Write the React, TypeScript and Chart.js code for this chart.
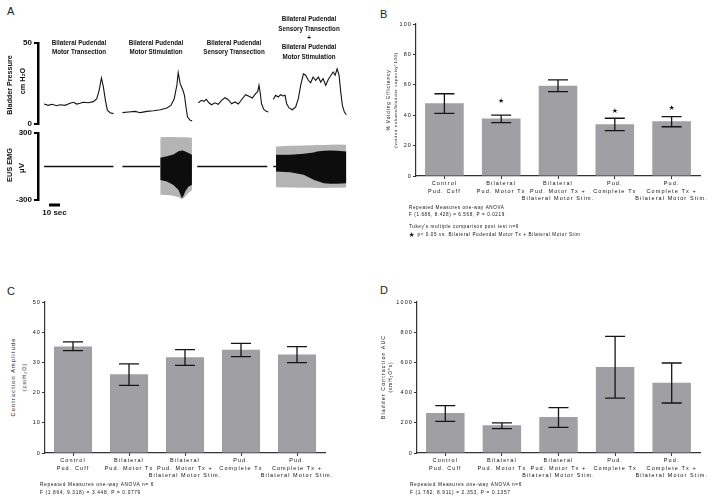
import React, { useEffect, useRef } from "react";
import { Chart, registerables } from "chart.js";

Chart.register(...registerables);

const FONT = '"Liberation Sans", Arial, Helvetica, sans-serif';

// ---------------- Panel A: raw traces ----------------
// Bladder pressure (cmH2O) against time (s), one recording per condition
const motorTxTime = [0, 3.9, 7.0, 11.5, 14.5, 19.1, 23.6, 26.6, 29.7, 32.7, 35.7, 40.3, 44.8, 47.9, 50.0, 52.1, 53.9, 55.7, 57.5, 60.0, 63.0];
const motorTxPressure = [12.3, 11.5, 12.2, 11.3, 11.9, 11.5, 12.8, 13.4, 12.3, 12.8, 13.4, 13.1, 13.8, 15.6, 20.8, 28.4, 22.8, 14.6, 8.5, 7.0, 6.4];

const motorStimTime = [71.2, 76.6, 82.7, 87.3, 93.4, 99.4, 105.5, 111.5, 115.2, 118.2, 120.6, 121.8, 123.6, 126.1, 127.5, 129.1, 130.3, 132.7, 134.5];
const motorStimPressure = [7.0, 7.4, 7.8, 7.0, 7.8, 8.2, 8.8, 9.9, 11.5, 15.6, 23.9, 31.7, 24.9, 20.8, 17.7, 9.4, 4.3, 2.3, 1.9];

const sensoryTxTime = [140.0, 143.0, 145.2, 147.3, 149.7, 152.1, 155.2, 158.2, 161.2, 164.3, 167.3, 170.3, 173.4, 176.4, 180.0, 183.0, 186.1, 189.1, 192.1, 193.9, 195.2, 196.4, 197.5, 199.4, 201.8, 203.6];
const sensoryTxPressure = [13.1, 14.6, 14.0, 15.2, 13.1, 11.9, 13.1, 12.2, 14.6, 16.2, 15.0, 12.5, 13.6, 12.3, 15.6, 18.1, 17.1, 16.0, 18.7, 19.8, 23.9, 18.7, 12.5, 9.1, 7.8, 7.4];

const comboTime = [208.2, 210.3, 212.7, 214.8, 217.0, 218.8, 220.3, 222.5, 225.5, 228.5, 230.9, 233.0, 235.5, 237.5, 240.0, 242.1, 244.3, 246.6, 249.1, 251.2, 253.4, 255.7, 258.2, 260.6, 262.5, 264.3, 266.1, 267.9, 269.4, 270.9, 272.7, 274.5];
const comboPressure = [15.2, 17.7, 16.7, 18.1, 17.3, 17.7, 12.5, 9.9, 8.8, 10.5, 15.6, 23.9, 31.0, 30.1, 27.0, 25.5, 29.0, 27.0, 29.0, 25.9, 28.0, 23.9, 27.6, 30.1, 32.1, 30.1, 34.1, 30.1, 19.8, 11.5, 7.4, 5.7];

const pressureTicks = [0, 50];

// EUS EMG (µV): quiet baseline segments and stimulation bursts (envelopes)
const emgFlatStart = [0, 71.2, 139.1, 208.2];
const emgFlatEnd = [63.0, 105.5, 202.7, 210.6];

const stimBurstTime = [105.5, 111.5, 117.5, 122.1, 125.2, 126.6, 128.2, 131.2, 134.3];
const stimBurstOuterHigh = [262, 264, 265, 263, 262, 262, 261, 259, 257];
const stimBurstOuterLow = [-252, -256, -262, -275, -292, -285, -268, -238, -212];
const stimBurstCoreHigh = [78, 92, 108, 136, 143, 142, 134, 120, 106];
const stimBurstCoreLow = [-120, -135, -165, -210, -285, -262, -224, -180, -165];

const comboBurstTime = [210.6, 223.6, 235.7, 244.8, 247.9, 254.0, 260.0, 266.1, 274.5];
const comboBurstOuterHigh = [180, 185, 188, 190, 192, 193, 194, 196, 194];
const comboBurstOuterLow = [-185, -188, -190, -190, -192, -192, -190, -190, -188];
const comboBurstCoreHigh = [105, 106, 114, 125, 134, 140, 143, 140, 134];
const comboBurstCoreLow = [-45, -52, -74, -119, -130, -149, -155, -155, -149];

const emgTicks = [-300, 300];
const scaleBarStart = 4.5;
const scaleBarSeconds = 10;

const traceTitles = [
  ["Bilateral Pudendal", "Motor Transection"],
  ["Bilateral Pudendal", "Motor Stimulation"],
  ["Bilateral Pudendal", "Sensory Transection"],
  ["Bilateral Pudendal", "Sensory Transection", "+", "Bilateral Pudendal", "Motor Stimulation"],
];

// ---------------- Panels B–D: group means ----------------
const groupLabels = [
  ["Control", "Pud. Cuff"],
  ["Bilateral", "Pud. Motor Tx"],
  ["Bilateral", "Pud. Motor Tx +", "Bilateral Motor Stim."],
  ["Pud.", "Complete Tx"],
  ["Pud.", "Complete Tx +", "Bilateral Motor Stim."],
];

const voidingMean = [47.8, 37.9, 59.4, 34.0, 36.0];
const voidingLow = [41.2, 35.1, 55.5, 29.8, 32.4];
const voidingHigh = [54.1, 40.1, 63.2, 38.0, 39.0];
const voidingStar: (number | null)[] = [null, 48.9, null, 42.9, 44.5];
const voidingTicks = [0, 20, 40, 60, 80, 100];

const amplitudeMean = [35.3, 26.1, 31.7, 34.2, 32.6];
const amplitudeLow = [33.9, 22.4, 29.0, 31.9, 29.9];
const amplitudeHigh = [36.8, 29.5, 34.2, 36.3, 35.2];
const amplitudeTicks = [0, 10, 20, 30, 40, 50];

const aucMean = [265, 183, 238, 570, 466];
const aucLow = [210, 161, 170, 364, 331];
const aucHigh = [314, 199, 300, 773, 596];
const aucTicks = [0, 200, 400, 600, 800, 1000];

// ---------------- helpers ----------------
type LabelProps = {
  x: number;
  y: number;
  text: string;
  size: number;
  bold?: boolean;
  spacing?: number;
  align?: "left" | "center";
  rotate?: boolean;
  sx?: number;
  color?: string;
  family?: string;
};

function Label({ x, y, text, size, bold = false, spacing = 0, align = "left", rotate = false, sx = 1, color = "#111", family = FONT }: LabelProps) {
  const t: string[] = [];
  if (align === "center" || rotate) t.push("translate(-50%,-50%)");
  else t.push("translateY(-50%)");
  if (rotate) t.push("rotate(-90deg)");
  if (sx !== 1) t.push(`scaleX(${sx})`);
  return (
    <div
      style={{
        position: "absolute",
        left: x,
        top: y,
        fontFamily: family,
        fontSize: size,
        fontWeight: bold ? 700 : 400,
        letterSpacing: spacing,
        lineHeight: `${size}px`,
        whiteSpace: "nowrap",
        color,
        transform: t.join(" "),
        transformOrigin: align === "left" && !rotate ? "left center" : "center center",
      }}
    >
      {text}
    </div>
  );
}

const spacingPlugin = (px: string) => ({
  id: "letterSpacing",
  beforeLayout(chart: any) {
    chart.ctx.letterSpacing = px;
  },
  beforeDraw(chart: any) {
    chart.ctx.letterSpacing = px;
  },
});

type Box = { x: number; y: number; w: number; h: number };

function canvasStyle(b: Box): React.CSSProperties {
  return { position: "absolute", left: b.x, top: b.y, width: b.w, height: b.h };
}

// ---------------- Panel A charts ----------------
function PressureChart({ box }: { box: Box }) {
  const ref = useRef<HTMLCanvasElement>(null);
  useEffect(() => {
    const traces = [
      [motorTxTime, motorTxPressure],
      [motorStimTime, motorStimPressure],
      [sensoryTxTime, sensoryTxPressure],
      [comboTime, comboPressure],
    ];
    const chart = new Chart(ref.current!, {
      type: "line",
      data: {
        datasets: traces.map(([t, v]) => ({
          data: t.map((x, i) => ({ x, y: v[i] })),
          borderColor: "#141414",
          borderWidth: 1.1,
          pointRadius: 0,
          tension: 0,
          fill: false,
        })),
      },
      options: {
        animation: false,
        responsive: false,
        devicePixelRatio: 1,
        layout: { padding: { left: 0, right: 12, top: 13, bottom: 10 } },
        plugins: { legend: { display: false }, tooltip: { enabled: false } },
        scales: {
          x: { type: "linear", display: false, min: -5.5, max: 276 },
          y: {
            min: 0,
            max: 50,
            afterBuildTicks: (s: any) => {
              s.ticks = pressureTicks.map((v) => ({ value: v }));
            },
            afterFit: (s: any) => {
              s.width = 38;
            },
            ticks: { font: { family: FONT, size: 8, weight: "bold" }, color: "#111", padding: 2 },
            grid: { drawOnChartArea: false, drawTicks: true, tickLength: 4, color: "#000", lineWidth: 2 },
            border: { display: true, color: "#000", width: 2.5 },
          },
        },
      },
    } as any);
    return () => chart.destroy();
  }, []);
  return <canvas ref={ref} width={box.w} height={box.h} style={canvasStyle(box)} />;
}

function EmgChart({ box }: { box: Box }) {
  const ref = useRef<HTMLCanvasElement>(null);
  useEffect(() => {
    const line = (t: number[], v: number[]) => t.map((x, i) => ({ x, y: v[i] }));
    const flat = emgFlatStart.map((s, i) => ({
      data: [
        { x: s, y: 0 },
        { x: emgFlatEnd[i], y: 0 },
      ],
      borderColor: "#111",
      borderWidth: 1.5,
      pointRadius: 0,
      fill: false,
    }));
    const band = (t: number[], hi: number[], lo: number[], color: string) => [
      { data: line(t, hi), borderWidth: 0, borderColor: color, backgroundColor: color, pointRadius: 0, tension: 0, fill: "+1" },
      { data: line(t, lo), borderWidth: 0, borderColor: color, pointRadius: 0, tension: 0, fill: false },
    ];
    const datasets = [
      ...flat,
      ...band(stimBurstTime, stimBurstCoreHigh, stimBurstCoreLow, "#0d0d0d"),
      ...band(comboBurstTime, comboBurstCoreHigh, comboBurstCoreLow, "#0d0d0d"),
      ...band(stimBurstTime, stimBurstOuterHigh, stimBurstOuterLow, "#b4b4b4"),
      ...band(comboBurstTime, comboBurstOuterHigh, comboBurstOuterLow, "#b4b4b4"),
    ];
    const scaleBar = {
      id: "scaleBar",
      afterDraw(ch: any) {
        const { ctx } = ch;
        const xs = ch.scales.x;
        const ys = ch.scales.y;
        const x0 = xs.getPixelForValue(scaleBarStart);
        const x1 = xs.getPixelForValue(scaleBarStart + scaleBarSeconds);
        const yy = ys.bottom + 5;
        ctx.save();
        ctx.fillStyle = "#000";
        ctx.fillRect(x0, yy - 1.5, x1 - x0, 3);
        ctx.restore();
      },
    };
    const chart = new Chart(ref.current!, {
      type: "line",
      data: { datasets },
      options: {
        animation: false,
        responsive: false,
        devicePixelRatio: 1,
        layout: { padding: { left: 0, right: 12, top: 7, bottom: 22 } },
        plugins: { legend: { display: false }, tooltip: { enabled: false } },
        scales: {
          x: { type: "linear", display: false, min: -5.5, max: 276 },
          y: {
            min: -300,
            max: 300,
            afterBuildTicks: (s: any) => {
              s.ticks = emgTicks.map((v) => ({ value: v }));
            },
            afterFit: (s: any) => {
              s.width = 38;
            },
            ticks: { font: { family: FONT, size: 8, weight: "bold" }, color: "#111", padding: 2 },
            grid: { drawOnChartArea: false, drawTicks: true, tickLength: 4, color: "#000", lineWidth: 2 },
            border: { display: true, color: "#000", width: 2.5 },
          },
        },
      },
      plugins: [scaleBar],
    } as any);
    return () => chart.destroy();
  }, []);
  return <canvas ref={ref} width={box.w} height={box.h} style={canvasStyle(box)} />;
}

// ---------------- Bar panels ----------------
type BarProps = {
  box: Box;
  axisW: number;
  axisH: number;
  pad: { top: number; right: number };
  means: number[];
  lows: number[];
  highs: number[];
  stars?: (number | null)[];
  yMax: number;
  ticks: number[];
};

function BarPanel({ box, axisW, axisH, pad, means, lows, highs, stars, yMax, ticks }: BarProps) {
  const ref = useRef<HTMLCanvasElement>(null);
  useEffect(() => {
    const errBars = {
      id: "errBars",
      afterDatasetsDraw(ch: any) {
        const { ctx } = ch;
        const meta = ch.getDatasetMeta(0);
        const ys = ch.scales.y;
        const cap = 10;
        ctx.save();
        ctx.strokeStyle = "#151515";
        ctx.lineWidth = 1.3;
        meta.data.forEach((bar: any, i: number) => {
          const x = bar.x;
          const yl = ys.getPixelForValue(lows[i]);
          const yh = ys.getPixelForValue(highs[i]);
          ctx.beginPath();
          ctx.moveTo(x, yl);
          ctx.lineTo(x, yh);
          ctx.moveTo(x - cap, yh);
          ctx.lineTo(x + cap, yh);
          ctx.moveTo(x - cap, yl);
          ctx.lineTo(x + cap, yl);
          ctx.stroke();
          const s = stars ? stars[i] : null;
          if (s !== null && s !== undefined) {
            ctx.letterSpacing = "0px";
            ctx.fillStyle = "#111";
            ctx.font = '7px "DejaVu Sans"';
            ctx.textAlign = "center";
            ctx.textBaseline = "middle";
            ctx.fillText("★", x, ys.getPixelForValue(s));
          }
        });
        ctx.restore();
      },
    };
    const chart = new Chart(ref.current!, {
      type: "bar",
      data: {
        labels: groupLabels,
        datasets: [
          {
            data: means,
            backgroundColor: "#a0a0a4",
            borderWidth: 0,
            barPercentage: 0.68,
            categoryPercentage: 1,
          },
        ],
      },
      options: {
        animation: false,
        responsive: false,
        devicePixelRatio: 1,
        layout: { padding: { left: 0, right: pad.right, top: pad.top, bottom: 0 } },
        plugins: { legend: { display: false }, tooltip: { enabled: false } },
        scales: {
          x: {
            afterFit: (s: any) => {
              s.height = axisH;
            },
            ticks: {
              autoSkip: false,
              maxRotation: 0,
              minRotation: 0,
              font: { family: FONT, size: 5.5, lineHeight: 1.36 },
              color: "#111",
              padding: 1,
            },
            grid: { offset: false, drawOnChartArea: false, drawTicks: true, tickLength: 3, color: "#333", lineWidth: 1 },
            border: { display: true, color: "#333", width: 1.2 },
          },
          y: {
            min: 0,
            max: yMax,
            afterBuildTicks: (s: any) => {
              s.ticks = ticks.map((v) => ({ value: v }));
            },
            afterFit: (s: any) => {
              s.width = axisW;
            },
            ticks: {
              font: { family: FONT, size: 5.5 },
              color: "#111",
              padding: 1,
              callback: (v: number) => String(v),
            },
            grid: { drawOnChartArea: false, drawTicks: true, tickLength: 3, color: "#333", lineWidth: 1 },
            border: { display: true, color: "#333", width: 1.2 },
          },
        },
      },
      plugins: [spacingPlugin("1.1px"), errBars],
    } as any);
    return () => chart.destroy();
  }, []);
  return <canvas ref={ref} width={box.w} height={box.h} style={canvasStyle(box)} />;
}

// ---------------- App ----------------
export default function App() {
  const headerX = [79, 156, 233.5];
  return (
    <div style={{ position: "absolute", left: 0, top: 0, width: 714, height: 502, background: "#fff", overflow: "hidden" }}>
      {/* Panel letters */}
      <Label x={7} y={11.2} text="A" size={11} color="#222" />
      <Label x={380} y={13.8} text="B" size={11} color="#222" />
      <Label x={7} y={290.5} text="C" size={11} color="#222" />
      <Label x={380} y={290} text="D" size={11} color="#222" />

      {/* Panel A */}
      <PressureChart box={{ x: 0, y: 30, w: 360, h: 104 }} />
      <EmgChart box={{ x: 0, y: 126, w: 360, h: 96 }} />
      {traceTitles.slice(0, 3).map((lines, k) =>
        lines.map((ln, j) => (
          <Label key={`h${k}${j}`} x={headerX[k]} y={42.7 + j * 9} text={ln} size={8} bold align="center" sx={0.78} />
        ))
      )}
      {traceTitles[3].map((ln, j) => (
        <Label key={`h4${j}`} x={309} y={19.3 + j * 9.3} text={ln} size={8} bold align="center" sx={0.78} />
      ))}
      <Label x={10} y={85} text="Bladder Pressure" size={8} bold rotate sx={0.9} />
      <Label x={22.5} y={81} text="cm H₂O" size={8} bold rotate sx={0.9} />
      <Label x={10} y={165} text="EUS EMG" size={8} bold rotate sx={0.92} />
      <Label x={21.5} y={168} text="µV" size={8} bold rotate />
      <Label x={54.5} y={213.3} text="10 sec" size={8} bold align="center" />

      {/* Panel B */}
      <BarPanel
        box={{ x: 380, y: 10, w: 334, h: 200 }}
        axisW={36}
        axisH={34}
        pad={{ top: 14, right: 14 }}
        means={voidingMean}
        lows={voidingLow}
        highs={voidingHigh}
        stars={voidingStar}
        yMax={100}
        ticks={voidingTicks}
      />
      <Label x={389} y={100} text="% Voiding Efficiency" size={4.8} spacing={0.9} rotate />
      <Label x={395.5} y={100} text="(voided volume/bladder capacity*100)" size={4.3} spacing={0.65} rotate />
      <Label x={409} y={207.7} text="Repeated Measures one-way ANOVA" size={4.6} spacing={0.6} />
      <Label x={409} y={214.5} text="F (1.686, 8.428) = 6.568, P = 0.0219" size={4.6} spacing={0.6} />
      <Label x={409} y={227.3} text="Tukey's  multiple comparison post test n=6" size={4.6} spacing={0.6} />
      <Label x={408.5} y={235} text="★" size={7} family='"DejaVu Sans", sans-serif' />
      <Label x={417.5} y={235} text="p< 0.05 vs. Bilateral Pudendal Motor Tx + Bilateral Motor Stim" size={4.6} spacing={0.6} />

      {/* Panel C */}
      <BarPanel
        box={{ x: 20, y: 290, w: 320, h: 200 }}
        axisW={25}
        axisH={37}
        pad={{ top: 12, right: 15 }}
        means={amplitudeMean}
        lows={amplitudeLow}
        highs={amplitudeHigh}
        yMax={50}
        ticks={amplitudeTicks}
      />
      <Label x={13.5} y={377} text="Contraction Amplitude" size={5.5} spacing={1.2} rotate />
      <Label x={25} y={377} text="(cmH₂O)" size={5.5} spacing={1.0} rotate />
      <Label x={40} y={485} text="Repeated Measures one-way ANOVA n= 6" size={4.8} spacing={0.65} />
      <Label x={40} y={492.7} text="F (1.864, 9.318) = 3.448, P = 0.0779" size={4.8} spacing={0.65} />

      {/* Panel D */}
      <BarPanel
        box={{ x: 380, y: 290, w: 334, h: 200 }}
        axisW={37}
        axisH={37}
        pad={{ top: 12, right: 14 }}
        means={aucMean}
        lows={aucLow}
        highs={aucHigh}
        yMax={1000}
        ticks={aucTicks}
      />
      <Label x={384} y={377} text="Bladder Contraction AUC" size={5.3} spacing={1.1} rotate />
      <Label x={390.5} y={377} text="(cmH₂O*s)" size={4.8} spacing={0.9} rotate />
      <Label x={410} y={485} text="Repeated Measures one-way ANOVA n=6" size={4.8} spacing={0.65} />
      <Label x={410} y={492.7} text="F (1.782, 8.911) = 2.353, P = 0.1357" size={4.8} spacing={0.65} />
    </div>
  );
}
